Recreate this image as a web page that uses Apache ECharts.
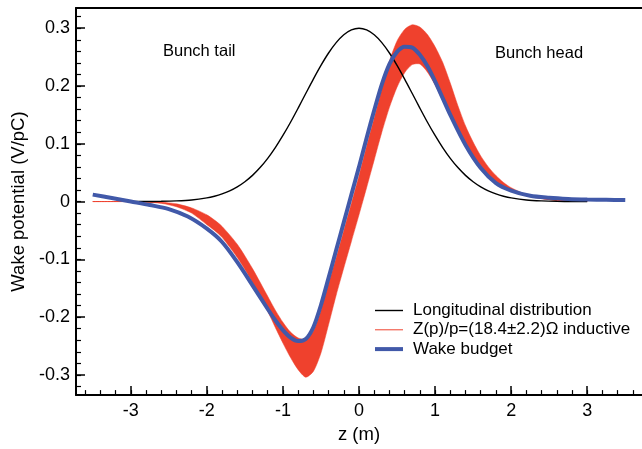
<!DOCTYPE html>
<html>
<head>
<meta charset="utf-8">
<script src="https://cdn.jsdelivr.net/npm/echarts@6.0.0/dist/echarts.min.js"></script>
<style>
  html, body { margin: 0; padding: 0; background: #fff; }
  #chart { width: 642px; height: 449px; }
</style>
</head>
<body>
<div id="chart"></div>
<script>
// tick values
const xMajor = [-3, -2, -1, 0, 1, 2, 3];
const xMinor = [-3.6, -3.4, -3.2, -3, -2.8, -2.6, -2.4, -2.2, -2, -1.8, -1.6, -1.4, -1.2, -1, -0.8, -0.6, -0.4, -0.2, 0,
  0.2, 0.4, 0.6, 0.8, 1, 1.2, 1.4, 1.6, 1.8, 2, 2.2, 2.4, 2.6, 2.8, 3, 3.2, 3.4, 3.6];
const yMajor = [-0.3, -0.2, -0.1, 0, 0.1, 0.2, 0.3];
const yMinor = [-0.32, -0.3, -0.28, -0.26, -0.24, -0.22, -0.2, -0.18, -0.16, -0.14, -0.12, -0.1, -0.08, -0.06, -0.04, -0.02, 0,
  0.02, 0.04, 0.06, 0.08, 0.1, 0.12, 0.14, 0.16, 0.18, 0.2, 0.22, 0.24, 0.26, 0.28, 0.3, 0.32];

// longitudinal distribution (black)
const distZ = [-3, -2.8, -2.6, -2.4, -2.2, -2, -1.9, -1.8, -1.7, -1.6, -1.5, -1.4, -1.3, -1.2, -1.1, -1, -0.9, -0.8, -0.7, -0.6, -0.5, -0.4, -0.3, -0.2, -0.1, 0,
  0.1, 0.2, 0.3, 0.4, 0.5, 0.6, 0.7, 0.8, 0.9, 1, 1.1, 1.2, 1.3, 1.4, 1.5, 1.6, 1.7, 1.8, 1.9, 2, 2.2, 2.4, 2.6, 2.8, 3];
const distVal = [0, 0.0001, 0.0004, 0.0012, 0.0028, 0.0063, 0.0092, 0.0132, 0.0185, 0.0254, 0.0343, 0.0453, 0.0588, 0.0748, 0.0934, 0.1144, 0.1373, 0.1618, 0.187, 0.212, 0.2357, 0.2571, 0.2751, 0.2887, 0.2971, 0.3,
  0.2971, 0.2887, 0.2751, 0.2571, 0.2357, 0.212, 0.187, 0.1618, 0.1373, 0.1144, 0.0934, 0.0748, 0.0588, 0.0453, 0.0343, 0.0254, 0.0185, 0.0132, 0.0092, 0.0063, 0.0028, 0.0012, 0.0004, 0.0001, 0];

// inductive impedance band (red): lower edge, upper edge, centre line
const bandZ = [-3.5, -3, -2.8, -2.6, -2.4, -2.2, -2, -1.9, -1.8, -1.6, -1.4, -1.2, -1.1, -1, -0.9, -0.8, -0.7, -0.6, -0.5, -0.4, -0.3, -0.2, -0.1, 0,
  0.1, 0.2, 0.3, 0.4, 0.5, 0.6, 0.7, 0.8, 0.9, 1, 1.1, 1.2, 1.3, 1.4, 1.5, 1.6, 1.7, 1.8, 1.9, 2, 2.2, 2.4, 2.6, 2.8, 3];
const bandLo = [0, 0, -0.001, -0.003, -0.009, -0.02, -0.04, -0.05, -0.062, -0.097, -0.14, -0.19, -0.218, -0.245, -0.27, -0.291, -0.304, -0.294, -0.262, -0.213, -0.162, -0.115, -0.069, -0.023,
  0.024, 0.072, 0.12, 0.163, 0.198, 0.223, 0.237, 0.238, 0.224, 0.202, 0.175, 0.147, 0.12, 0.096, 0.075, 0.057, 0.043, 0.032, 0.024, 0.018, 0.01, 0.005, 0.002, 0.001, 0.0003];
const bandHi = [0, 0, 0, -0.001, -0.004, -0.011, -0.023, -0.032, -0.043, -0.074, -0.116, -0.164, -0.188, -0.209, -0.226, -0.236, -0.238, -0.224, -0.188, -0.142, -0.097, -0.05, -0.003, 0.045,
  0.096, 0.145, 0.195, 0.243, 0.278, 0.298, 0.306, 0.302, 0.289, 0.268, 0.241, 0.205, 0.166, 0.131, 0.103, 0.079, 0.06, 0.045, 0.033, 0.024, 0.012, 0.006, 0.0025, 0.001, 0.0004];
const bandMid = [0, 0, -0.0005, -0.002, -0.0065, -0.0155, -0.0315, -0.041, -0.0525, -0.0855, -0.128, -0.177, -0.203, -0.227, -0.248, -0.2635, -0.271, -0.259, -0.225, -0.1775, -0.1295, -0.0825, -0.036, 0.011,
  0.06, 0.1085, 0.1575, 0.203, 0.238, 0.2605, 0.2715, 0.27, 0.2565, 0.235, 0.208, 0.176, 0.143, 0.1135, 0.089, 0.068, 0.0515, 0.0385, 0.0285, 0.021, 0.011, 0.0055, 0.0023, 0.001, 0.0004];

// wake budget (blue)
const wakeZ = [-3.5, -3.25, -3, -2.75, -2.5, -2.25, -2, -1.8, -1.6, -1.4, -1.2, -1.1, -1, -0.9, -0.8, -0.7, -0.6, -0.5, -0.4, -0.3, -0.2, -0.1, 0,
  0.1, 0.2, 0.3, 0.4, 0.5, 0.6, 0.7, 0.8, 0.9, 1, 1.1, 1.2, 1.4, 1.6, 1.8, 2, 2.25, 2.5, 2.75, 3, 3.25, 3.5];
const wakeVal = [0.012, 0.006, 0, -0.006, -0.013, -0.026, -0.047, -0.07, -0.105, -0.145, -0.186, -0.2055, -0.2225, -0.2355, -0.2415, -0.238, -0.2175, -0.179, -0.132, -0.084, -0.036, 0.012, 0.06,
  0.11, 0.158, 0.203, 0.238, 0.259, 0.268, 0.2665, 0.254, 0.234, 0.208, 0.179, 0.15, 0.098, 0.058, 0.032, 0.019, 0.01, 0.0065, 0.0045, 0.0035, 0.003, 0.0025];

const FONT = 'Liberation Sans, Arial, Helvetica, sans-serif';
const RED = '#ef412d';
const BLUE = '#4159a9';

const pairs = (xs, ys) => xs.map((x, i) => [x, ys[i]]);

const chart = echarts.init(document.getElementById('chart'));

const xBase = { type: 'value', min: -3.72, max: 3.72, splitLine: { show: false } };
const yBase = { type: 'value', min: -0.335, max: 0.335, splitLine: { show: false } };

// band polygon: upper edge left to right, lower edge back
function renderBand(params, api) {
  const pts = [];
  for (let i = 0; i < bandZ.length; i++) pts.push(api.coord([bandZ[i], bandHi[i]]));
  for (let i = bandZ.length - 1; i >= 0; i--) pts.push(api.coord([bandZ[i], bandLo[i]]));
  return {
    type: 'polygon',
    shape: { points: pts, smooth: 0.25 },
    style: { fill: RED, stroke: RED, lineWidth: 0.5 }
  };
}

chart.setOption({
  animation: false,
  grid: { left: 76, right: -4, top: 8, bottom: 47 },
  textStyle: { fontFamily: FONT },
  xAxis: [
    {
      ...xBase, position: 'bottom',
      axisLine: { show: true, onZero: false, lineStyle: { color: '#000', width: 2 } },
      axisTick: { show: true, inside: true, length: 9, customValues: xMajor, lineStyle: { color: '#000', width: 1.5 } },
      axisLabel: { customValues: xMajor, margin: 7, color: '#000', fontSize: 18, fontFamily: FONT },
      name: 'z (m)', nameLocation: 'middle', nameGap: 29,
      nameTextStyle: { color: '#000', fontSize: 18.5, fontFamily: FONT }
    },
    {
      ...xBase, position: 'bottom',
      axisLine: { show: false, onZero: false },
      axisTick: { show: true, inside: true, length: 5, customValues: xMinor, lineStyle: { color: '#000', width: 1.2 } },
      axisLabel: { show: false }
    },
    {
      ...xBase, position: 'top',
      axisLine: { show: true, onZero: false, lineStyle: { color: '#000', width: 2 } },
      axisTick: { show: false },
      axisLabel: { show: false }
    }
  ],
  yAxis: [
    {
      ...yBase, position: 'left',
      axisLine: { show: true, onZero: false, lineStyle: { color: '#000', width: 2 } },
      axisTick: { show: true, inside: true, length: 9, customValues: yMajor, lineStyle: { color: '#000', width: 1.5 } },
      axisLabel: { customValues: yMajor, margin: 6, color: '#000', fontSize: 18, fontFamily: FONT },
      name: 'Wake potential (V/pC)', nameLocation: 'middle', nameGap: 47,
      nameTextStyle: { color: '#000', fontSize: 18.5, fontFamily: FONT }
    },
    {
      ...yBase, position: 'left',
      axisLine: { show: false, onZero: false },
      axisTick: { show: true, inside: true, length: 5, customValues: yMinor, lineStyle: { color: '#000', width: 1.2 } },
      axisLabel: { show: false }
    }
  ],
  legend: {
    left: 375, top: 301, orient: 'vertical', padding: 0,
    itemWidth: 28, itemHeight: 4, itemGap: 0.3,
    data: [
      { name: 'Longitudinal distribution', icon: 'path://M0,0H20V1H0Z' },
      { name: 'Z(p)/p=(18.4±2.2)Ω inductive', icon: 'path://M0,0H28V1H0Z' },
      { name: 'Wake budget', icon: 'rect' }
    ],
    textStyle: { color: '#000', fontSize: 17, fontFamily: FONT, lineHeight: 19, padding: [0, 0, 0, 5] }
  },
  graphic: [
    { type: 'text', left: 163, top: 43, z: 100, style: { text: 'Bunch tail', fill: '#000', font: '16.5px ' + FONT } },
    { type: 'text', left: 495, top: 45, z: 100, style: { text: 'Bunch head', fill: '#000', font: '16.5px ' + FONT } }
  ],
  series: [
    {
      name: 'band', type: 'custom', data: [0], renderItem: renderBand,
      clip: true, silent: true, z: 1
    },
    {
      name: 'Z(p)/p=(18.4±2.2)Ω inductive', type: 'line',
      data: pairs(bandZ, bandMid), showSymbol: false, symbol: 'none', smooth: 0.3,
      color: RED, lineStyle: { color: RED, width: 1 }, z: 2
    },
    {
      name: 'Longitudinal distribution', type: 'line',
      data: pairs(distZ, distVal), showSymbol: false, symbol: 'none', smooth: 0.3,
      color: '#000', lineStyle: { color: '#000', width: 1.4 }, z: 3
    },
    {
      name: 'Wake budget', type: 'line',
      data: pairs(wakeZ, wakeVal), showSymbol: false, symbol: 'none', smooth: 0.3,
      color: BLUE, lineStyle: { color: BLUE, width: 4 }, z: 4
    }
  ]
});
</script>
</body>
</html>
